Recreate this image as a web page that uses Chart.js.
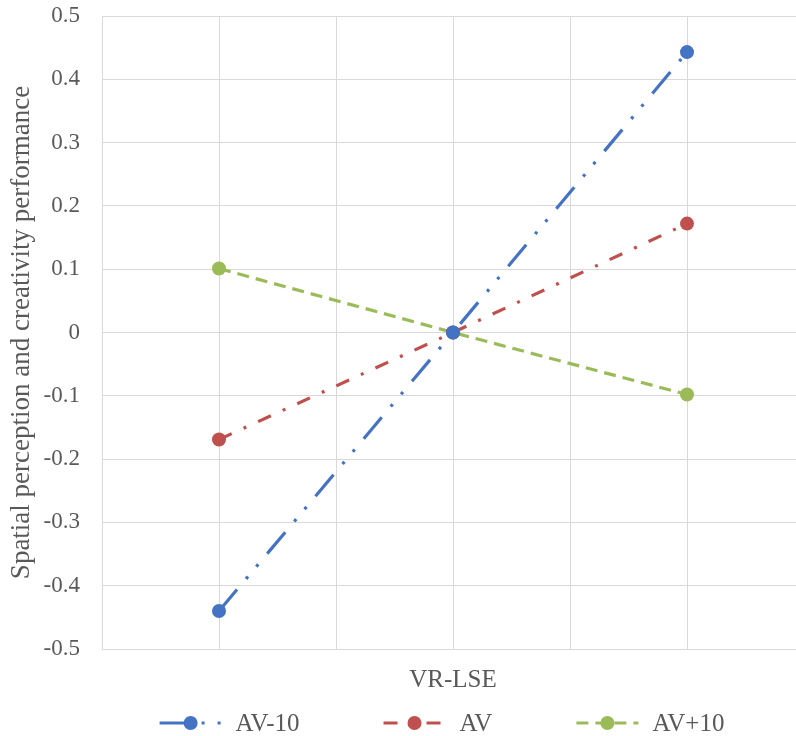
<!DOCTYPE html>
<html>
<head>
<meta charset="utf-8">
<script src="https://cdn.jsdelivr.net/npm/chart.js@4.4.1/dist/chart.umd.min.js"></script>
<style>
  html, body { margin: 0; padding: 0; background: #fff; }
  #wrap { width: 796px; height: 736px; overflow: hidden; }
  #box { width: 810px; height: 736px; }
</style>
</head>
<body>
<div id="wrap"><div id="box"><canvas id="chart"></canvas></div></div>
<script>
// VR-LSE levels (low / mean / high)
const xLevels = [-1, 0, 1];
const seriesNames = ['AV-10', 'AV', 'AV+10'];
const av10 = [-0.44, 0, 0.443];
const av = [-0.169, 0, 0.172];
const avPlus10 = [0.101, 0, -0.098];
const yTicks = [-0.5, -0.4, -0.3, -0.2, -0.1, 0, 0.1, 0.2, 0.3, 0.4, 0.5];

const COLORS = ['#4472C4', '#C0504D', '#9BBB59'];
const DASHES = [[28, 14, 3, 13, 3, 14], [14, 13, 3, 13], [12, 7]];
const GRID = '#d9d9d9';
const TEXT = '#595959';
const FONT = "'Liberation Serif', 'Times New Roman', serif";

const toPoints = vals => vals.map((v, i) => ({ x: xLevels[i], y: v }));

const datasets = [av10, av, avPlus10].map((vals, i) => ({
  label: seriesNames[i],
  data: toPoints(vals),
  borderColor: COLORS[i],
  backgroundColor: COLORS[i],
  borderWidth: 3.2,
  borderDash: DASHES[i],
  pointRadius: 7,
  pointHoverRadius: 7,
  pointBorderWidth: 0,
  tension: 0,
}));

// legend drawn by hand so the samples keep their dash patterns
const legendPlugin = {
  id: 'excelLegend',
  afterDraw(chart) {
    const ctx = chart.ctx;
    const cx = 442;
    const y = 723;
    const sample = 62, textGap = 14, spacing = 84;
    ctx.save();
    ctx.font = '25px ' + FONT;
    const widths = seriesNames.map(n => sample + textGap + ctx.measureText(n).width);
    const total = widths.reduce((a, b) => a + b, 0) + spacing * (widths.length - 1);
    let x = cx - total / 2;
    seriesNames.forEach((name, i) => {
      ctx.strokeStyle = COLORS[i];
      ctx.fillStyle = COLORS[i];
      ctx.lineWidth = 3.2;
      ctx.setLineDash(DASHES[i]);
      ctx.beginPath();
      ctx.moveTo(x, y);
      ctx.lineTo(x + sample, y);
      ctx.stroke();
      ctx.setLineDash([]);
      ctx.beginPath();
      ctx.arc(x + sample / 2, y, 7, 0, Math.PI * 2);
      ctx.fill();
      ctx.fillStyle = TEXT;
      ctx.textBaseline = 'middle';
      ctx.textAlign = 'left';
      ctx.fillText(name, x + sample + textGap, y + 1);
      x += widths[i] + spacing;
    });
    ctx.restore();
  },
};

new Chart(document.getElementById('chart'), {
  type: 'line',
  data: { datasets },
  plugins: [legendPlugin],
  options: {
    responsive: true,
    maintainAspectRatio: false,
    animation: false,
    layout: { autoPadding: false, padding: { top: 16, right: 6, left: 0, bottom: 0 } },
    plugins: {
      legend: { display: false },
      tooltip: { enabled: false },
    },
    scales: {
      x: {
        type: 'linear',
        min: -1.5,
        max: 1.5,
        ticks: { display: false, stepSize: 0.5 },
        grid: { color: GRID, lineWidth: 1, drawTicks: false },
        border: { color: GRID, width: 1 },
        title: {
          display: true,
          text: 'VR-LSE',
          color: TEXT,
          font: { family: FONT, size: 25 },
          padding: { top: 0, bottom: 41 },
        },
        afterFit(scale) {
          scale.height = 87;
          scale.paddingLeft = 0;
          scale.paddingRight = 0;
        },
      },
      y: {
        min: -0.5,
        max: 0.5,
        afterBuildTicks(scale) { scale.ticks = yTicks.map(v => ({ value: v })); },
        ticks: {
          color: TEXT,
          padding: 22,
          font: { family: FONT, size: 23 },
          callback: v => String(Math.round(v * 10) / 10),
        },
        grid: { color: GRID, lineWidth: 1, drawTicks: false },
        border: { color: GRID, width: 1 },
        title: {
          display: true,
          text: 'Spatial perception and creativity performance',
          color: TEXT,
          font: { family: FONT, size: 27 },
          padding: { top: 6, bottom: 0 },
        },
        afterFit(scale) {
          scale.width = 102;
          scale.paddingTop = 0;
          scale.paddingBottom = 0;
        },
      },
    },
  },
});
</script>
</body>
</html>
